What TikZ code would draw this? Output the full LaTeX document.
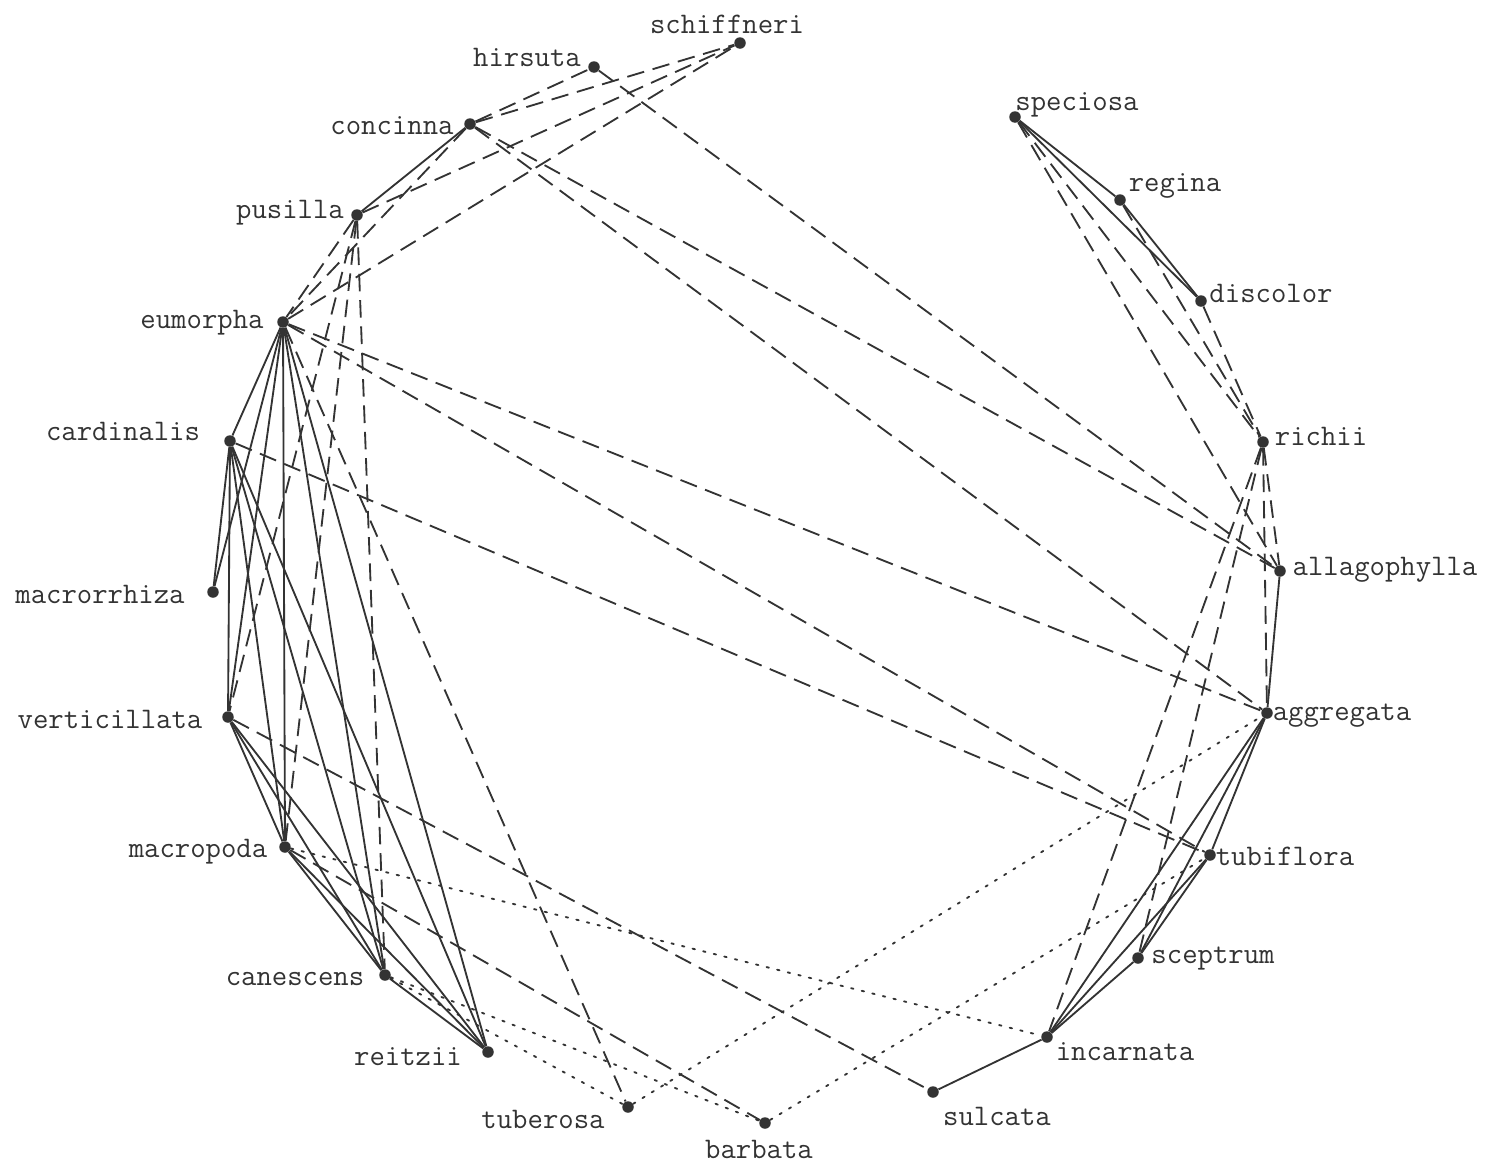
\documentclass[tikz,border=0pt]{standalone}
\usepackage{fontspec}
\definecolor{inkgray}{HTML}{333333}

\begin{document}
\begin{tikzpicture}[
    x=0.02cm, y=-0.02cm,
    taxon/.style={circle, fill=inkgray, inner sep=0pt, minimum size=0.23cm},
    lbl/.style={font=\ttfamily\fontsize{17}{17}\selectfont, text=inkgray, inner sep=0pt,
                text height=1.1ex, text depth=0pt, yshift=-0.08cm},
    tie/.style={line width=1.05pt, inkgray},
    looseTie/.style={tie, dash pattern=on 10pt off 5pt},
    weakTie/.style={tie, line cap=round, dash pattern=on 1.4pt off 4.8pt}
]

% Frame
\useasboundingbox (0,0) rectangle (1501,1167);

% Species: name / dot x / dot y / label x / label y
\foreach \n/\x/\y/\lx/\ly in {
    schiffneri/740/43/727/25,
    hirsuta/594/67/527/58,
    concinna/470/124/392/126,
    pusilla/357/215/290/210,
    eumorpha/283/322/202/320,
    cardinalis/230/441/123/432,
    macrorrhiza/213/592/100/595,
    verticillata/228/717/110/720,
    macropoda/285/847/198/849,
    canescens/385/975/295/977,
    reitzii/488/1052/408/1057,
    tuberosa/628/1107/543/1120,
    barbata/765/1123/759/1150,
    sulcata/933/1092/997/1117,
    incarnata/1047/1037/1125/1052,
    sceptrum/1138/958/1213/955,
    tubiflora/1210/855/1285/857,
    aggregata/1267/713/1342/712,
    allagophylla/1280/571/1385/567,
    richii/1263/442/1321/437,
    discolor/1201/301/1271/294,
    regina/1120/200/1175/183,
    speciosa/1015/117/1077/102}
{
    \node[taxon] (\n) at (\x,\y) {};
    \node[lbl] (\n-lbl) at (\lx,\ly) {\n};
}

% Strong links
\foreach \a/\b in {
    concinna/pusilla,
    eumorpha/cardinalis, eumorpha/macrorrhiza, eumorpha/verticillata,
    eumorpha/macropoda, eumorpha/canescens, eumorpha/reitzii,
    cardinalis/macrorrhiza, cardinalis/verticillata, cardinalis/macropoda,
    cardinalis/canescens, cardinalis/reitzii,
    verticillata/macropoda, verticillata/canescens, verticillata/reitzii,
    macropoda/canescens, macropoda/reitzii, canescens/reitzii,
    speciosa/regina, speciosa/discolor, regina/discolor,
    allagophylla/aggregata, aggregata/tubiflora, aggregata/sceptrum,
    aggregata/incarnata, tubiflora/sceptrum, tubiflora/incarnata,
    sceptrum/incarnata, incarnata/sulcata}
    \draw[tie] (\a) -- (\b);

% Medium links
\foreach \a/\b in {
    concinna/hirsuta, concinna/schiffneri, pusilla/schiffneri, eumorpha/schiffneri,
    concinna/eumorpha, pusilla/eumorpha,
    hirsuta/allagophylla, concinna/allagophylla, concinna/aggregata,
    eumorpha/aggregata, eumorpha/tubiflora, cardinalis/tubiflora,
    eumorpha/tuberosa, pusilla/canescens, pusilla/verticillata, pusilla/macropoda,
    verticillata/sulcata, macropoda/barbata,
    speciosa/allagophylla, speciosa/richii, regina/richii, discolor/richii,
    richii/allagophylla, richii/aggregata, richii/incarnata, richii/sceptrum}
    \draw[looseTie] (\a) -- (\b);

% Weak links
\foreach \a/\b in {
    macropoda/incarnata, canescens/tuberosa, canescens/barbata,
    tuberosa/aggregata, barbata/tubiflora}
    \draw[weakTie] (\a) -- (\b);

\end{tikzpicture}
\end{document}
